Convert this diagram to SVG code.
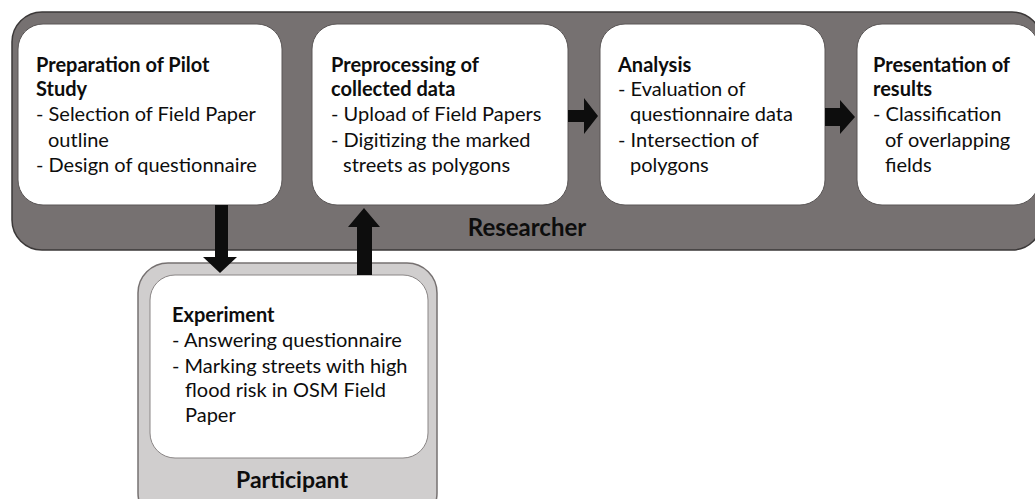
<svg xmlns="http://www.w3.org/2000/svg" width="1035" height="499" viewBox="0 0 1035 499">
<style>
.outer{fill:#767171;stroke:#3b3838;stroke-width:1.5}
.part{fill:#d0cece;stroke:#767171;stroke-width:1.5}
.box{fill:#ffffff;stroke:#5a5656;stroke-width:1}
.pbox{fill:#ffffff;stroke:#8a8686;stroke-width:1}
text{font-family:Lato,"Liberation Sans",sans-serif;fill:#0d0d0d}
.t{font-size:20px;font-weight:bold}
.b{font-size:20px}
.lbl{font-size:24px;font-weight:bold}
.lbl2{font-size:23px;font-weight:bold}
.arrow{fill:#0d0d0d}
</style>
<rect width="1035" height="499" fill="#ffffff"/>
<g id="researcher">
<rect class="outer" x="12" y="12" width="1030" height="238" rx="30"/>
<text class="lbl" x="527" y="236" text-anchor="middle">Researcher</text>
</g>
<g id="participant">
<rect class="part" x="138" y="263" width="299" height="260" rx="30"/>
<text class="lbl2" x="292" y="488" text-anchor="middle">Participant</text>
</g>
<g id="node-pilot">
<rect class="box" x="18" y="24" width="264" height="181" rx="25"/>
<text class="t" x="36" y="72">Preparation of Pilot</text>
<text class="t" x="36" y="96">Study</text>
<text class="b" x="36" y="121">- Selection of Field Paper</text>
<text class="b" x="48" y="147">outline</text>
<text class="b" x="36" y="172">- Design of questionnaire</text>
</g>
<g id="node-preprocessing">
<rect class="box" x="312" y="24" width="256" height="181" rx="25"/>
<text class="t" x="331" y="72">Preprocessing of</text>
<text class="t" x="331" y="96">collected data</text>
<text class="b" x="331" y="121">- Upload of Field Papers</text>
<text class="b" x="331" y="147">- Digitizing the marked</text>
<text class="b" x="343" y="172">streets as polygons</text>
</g>
<g id="node-analysis">
<rect class="box" x="600" y="24" width="225" height="181" rx="25"/>
<text class="t" x="618" y="72">Analysis</text>
<text class="b" x="618" y="96">- Evaluation of</text>
<text class="b" x="630" y="121">questionnaire data</text>
<text class="b" x="618" y="147">- Intersection of</text>
<text class="b" x="630" y="172">polygons</text>
</g>
<g id="node-presentation">
<rect class="box" x="857" y="24" width="182" height="181" rx="25"/>
<text class="t" x="873" y="72">Presentation of</text>
<text class="t" x="873" y="96">results</text>
<text class="b" x="873" y="121">- Classification</text>
<text class="b" x="885" y="147">of overlapping</text>
<text class="b" x="885" y="172">fields</text>
</g>
<g id="node-experiment">
<rect class="pbox" x="150" y="275" width="278" height="183" rx="25"/>
<text class="t" x="172" y="322">Experiment</text>
<text class="b" x="172" y="347">- Answering questionnaire</text>
<text class="b" x="172" y="373">- Marking streets with high</text>
<text class="b" x="185" y="397">flood risk in OSM Field</text>
<text class="b" x="185" y="422">Paper</text>
</g>
<g id="connectors">
<polygon class="arrow" points="568,110 584,110 584,98 598,116 584,134 584,122 568,122"/>
<polygon class="arrow" points="825,108 840,108 840,100 855,117 840,134 840,126 825,126"/>
<polygon class="arrow" points="215,205 228,205 228,257 237,257 220,273 203,257 215,257"/>
<polygon class="arrow" points="357,275 372,275 372,227 380,227 364,208 348,227 357,227"/>
</g>
</svg>
